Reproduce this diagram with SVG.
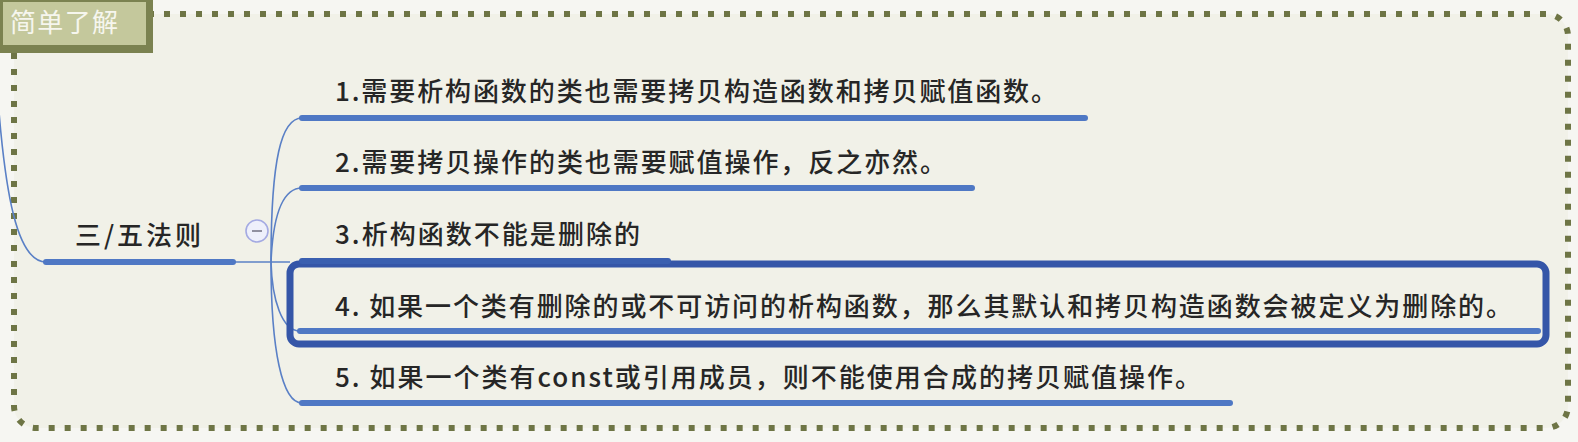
<svg xmlns="http://www.w3.org/2000/svg" width="1578" height="442" viewBox="0 0 1578 442">
<style>
.t{font-family:"Noto Sans CJK SC","Noto Sans",sans-serif;font-size:26px;font-weight:500;fill:#262626}
.ul{stroke:#4f78c4;stroke-width:6;stroke-linecap:round;fill:none}
.br{stroke:#5a80c6;stroke-width:1.6;fill:none}
</style>
<rect x="0" y="0" width="1578" height="442" fill="#f6f6f2"/>
<rect id="boundary" x="14" y="14" width="1554" height="414" rx="22" fill="#f1f1e8" stroke="#6e7545" stroke-width="6" stroke-dasharray="6 10"/>
<g id="header">
<rect x="0" y="0" width="153" height="53" fill="#7b8250"/>
<rect x="3" y="2" width="143" height="43" fill="#c4c89c"/>
<text x="10" y="32" font-family="Noto Sans CJK SC,sans-serif" font-size="26" fill="#f6f6ee" textLength="108" lengthAdjust="spacing">简单了解</text>
</g>
<g id="connectors">
<path class="br" d="M-4,70 C4,200 18,262 46,262"/>
<line x1="232" y1="262" x2="290" y2="262" class="br"/>
<path class="br" d="M271,262 C271,160 281,118 302,118"/>
<path class="br" d="M271,262 C273,215 282,188 302,188"/>
<path class="br" d="M271,262 C272,300 282,331 300,331"/>
<path class="br" d="M271,262 C271,350 282,403 302,403"/>
</g>
<g id="root">
<line x1="46" y1="262" x2="233" y2="262" class="ul"/>
<text class="t" x="75" y="245" textLength="126" lengthAdjust="spacing">三/五法则</text>
</g>
<g id="collapse">
<circle cx="257" cy="231" r="11" fill="#eef0fb" stroke="#a4aae2" stroke-width="1.6"/>
<line x1="252" y1="231" x2="262" y2="231" stroke="#7a7a8a" stroke-width="1.6"/>
</g>
<g id="n1">
<line x1="302" y1="118" x2="1085" y2="118" class="ul"/>
<text class="t" x="335" y="101" textLength="722" lengthAdjust="spacing">1.需要析构函数的类也需要拷贝构造函数和拷贝赋值函数。</text>
</g>
<g id="n2">
<line x1="302" y1="188" x2="972" y2="188" class="ul"/>
<text class="t" x="335" y="172" textLength="611" lengthAdjust="spacing">2.需要拷贝操作的类也需要赋值操作，反之亦然。</text>
</g>
<g id="n4">
<rect x="290" y="264" width="1256" height="80" rx="9" fill="none" stroke="#3556a8" stroke-width="7"/>
<line x1="300" y1="331" x2="1538" y2="331" class="ul"/>
<text class="t" x="335" y="316" textLength="1177" lengthAdjust="spacing">4. 如果一个类有删除的或不可访问的析构函数，那么其默认和拷贝构造函数会被定义为删除的。</text>
</g>
<g id="n3">
<line x1="302" y1="261" x2="668" y2="261" stroke="#3a5fb0" stroke-width="6" stroke-linecap="round"/>
<text class="t" x="335" y="244" textLength="305" lengthAdjust="spacing">3.析构函数不能是删除的</text>
</g>
<g id="n5">
<line x1="302" y1="403" x2="1230" y2="403" class="ul"/>
<text class="t" x="335" y="387" textLength="866" lengthAdjust="spacing">5. 如果一个类有const或引用成员，则不能使用合成的拷贝赋值操作。</text>
</g>
</svg>
